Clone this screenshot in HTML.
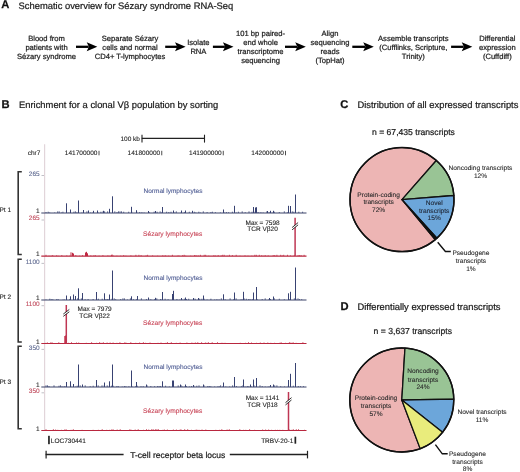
<!DOCTYPE html>
<html><head><meta charset="utf-8"><style>
html,body{margin:0;padding:0;background:#fff;width:520px;height:472px;overflow:hidden}
svg{display:block;font-family:"Liberation Sans", sans-serif;text-rendering:geometricPrecision;filter:blur(0.35px)}
</style></head><body>
<svg width="520" height="472" viewBox="0 0 520 472">
<rect width="520" height="472" fill="#fff"/>
<text x="1.3" y="8.2" font-size="11.2" text-anchor="start" fill="#111" font-weight="bold" stroke="#111" stroke-width="0.25" >A</text>
<text x="18.6" y="8.5" font-size="9.4" text-anchor="start" fill="#1c1c1c" font-weight="normal" stroke="#1c1c1c" stroke-width="0.22" >Schematic overview for Sézary syndrome RNA-Seq</text>
<text x="46.5" y="40.75" font-size="7.6" text-anchor="middle" fill="#1c1c1c" font-weight="normal" stroke="#1c1c1c" stroke-width="0.22" >Blood from</text>
<text x="46.5" y="49.75" font-size="7.6" text-anchor="middle" fill="#1c1c1c" font-weight="normal" stroke="#1c1c1c" stroke-width="0.22" >patients with</text>
<text x="46.5" y="58.75" font-size="7.6" text-anchor="middle" fill="#1c1c1c" font-weight="normal" stroke="#1c1c1c" stroke-width="0.22" >Sézary syndrome</text>
<text x="130.0" y="40.75" font-size="7.6" text-anchor="middle" fill="#1c1c1c" font-weight="normal" stroke="#1c1c1c" stroke-width="0.22" >Separate Sézary</text>
<text x="130.0" y="49.75" font-size="7.6" text-anchor="middle" fill="#1c1c1c" font-weight="normal" stroke="#1c1c1c" stroke-width="0.22" >cells and normal</text>
<text x="130.0" y="58.75" font-size="7.6" text-anchor="middle" fill="#1c1c1c" font-weight="normal" stroke="#1c1c1c" stroke-width="0.22" >CD4+ T-lymphocytes</text>
<text x="198.4" y="45.25" font-size="7.6" text-anchor="middle" fill="#1c1c1c" font-weight="normal" stroke="#1c1c1c" stroke-width="0.22" >Isolate</text>
<text x="198.4" y="54.25" font-size="7.6" text-anchor="middle" fill="#1c1c1c" font-weight="normal" stroke="#1c1c1c" stroke-width="0.22" >RNA</text>
<text x="260.6" y="36.25" font-size="7.6" text-anchor="middle" fill="#1c1c1c" font-weight="normal" stroke="#1c1c1c" stroke-width="0.22" >101 bp paired-</text>
<text x="260.6" y="45.25" font-size="7.6" text-anchor="middle" fill="#1c1c1c" font-weight="normal" stroke="#1c1c1c" stroke-width="0.22" >end whole</text>
<text x="260.6" y="54.25" font-size="7.6" text-anchor="middle" fill="#1c1c1c" font-weight="normal" stroke="#1c1c1c" stroke-width="0.22" >transcriptome</text>
<text x="260.6" y="63.25" font-size="7.6" text-anchor="middle" fill="#1c1c1c" font-weight="normal" stroke="#1c1c1c" stroke-width="0.22" >sequencing</text>
<text x="330.0" y="36.25" font-size="7.6" text-anchor="middle" fill="#1c1c1c" font-weight="normal" stroke="#1c1c1c" stroke-width="0.22" >Align</text>
<text x="330.0" y="45.25" font-size="7.6" text-anchor="middle" fill="#1c1c1c" font-weight="normal" stroke="#1c1c1c" stroke-width="0.22" >sequencing</text>
<text x="330.0" y="54.25" font-size="7.6" text-anchor="middle" fill="#1c1c1c" font-weight="normal" stroke="#1c1c1c" stroke-width="0.22" >reads</text>
<text x="330.0" y="63.25" font-size="7.6" text-anchor="middle" fill="#1c1c1c" font-weight="normal" stroke="#1c1c1c" stroke-width="0.22" >(TopHat)</text>
<text x="413.3" y="40.75" font-size="7.6" text-anchor="middle" fill="#1c1c1c" font-weight="normal" stroke="#1c1c1c" stroke-width="0.22" >Assemble transcripts</text>
<text x="413.3" y="49.75" font-size="7.6" text-anchor="middle" fill="#1c1c1c" font-weight="normal" stroke="#1c1c1c" stroke-width="0.22" >(Cufflinks, Scripture,</text>
<text x="413.3" y="58.75" font-size="7.6" text-anchor="middle" fill="#1c1c1c" font-weight="normal" stroke="#1c1c1c" stroke-width="0.22" >Trinity)</text>
<text x="497.3" y="40.75" font-size="7.6" text-anchor="middle" fill="#1c1c1c" font-weight="normal" stroke="#1c1c1c" stroke-width="0.22" >Differential</text>
<text x="497.3" y="49.75" font-size="7.6" text-anchor="middle" fill="#1c1c1c" font-weight="normal" stroke="#1c1c1c" stroke-width="0.22" >expression</text>
<text x="497.3" y="58.75" font-size="7.6" text-anchor="middle" fill="#1c1c1c" font-weight="normal" stroke="#1c1c1c" stroke-width="0.22" >(Cuffdiff)</text>
<line x1="76" y1="46.8" x2="88.7" y2="46.8" stroke="#000" stroke-width="2.3"/>
<path d="M97.3,46.8 L86.7,42.3 L88.9,46.8 L86.7,51.3 Z" fill="#000"/>
<line x1="165.2" y1="46.8" x2="177.0" y2="46.8" stroke="#000" stroke-width="2.3"/>
<path d="M185.6,46.8 L175.0,42.3 L177.2,46.8 L175.0,51.3 Z" fill="#000"/>
<line x1="212.9" y1="46.8" x2="224.9" y2="46.8" stroke="#000" stroke-width="2.3"/>
<path d="M233.5,46.8 L222.9,42.3 L225.1,46.8 L222.9,51.3 Z" fill="#000"/>
<line x1="285" y1="46.8" x2="297.2" y2="46.8" stroke="#000" stroke-width="2.3"/>
<path d="M305.8,46.8 L295.2,42.3 L297.4,46.8 L295.2,51.3 Z" fill="#000"/>
<line x1="352.3" y1="46.8" x2="365.2" y2="46.8" stroke="#000" stroke-width="2.3"/>
<path d="M373.8,46.8 L363.2,42.3 L365.4,46.8 L363.2,51.3 Z" fill="#000"/>
<line x1="451.1" y1="46.8" x2="463.7" y2="46.8" stroke="#000" stroke-width="2.3"/>
<path d="M472.3,46.8 L461.7,42.3 L463.9,46.8 L461.7,51.3 Z" fill="#000"/>
<text x="1.6" y="107.6" font-size="11.2" text-anchor="start" fill="#111" font-weight="bold" stroke="#111" stroke-width="0.25" >B</text>
<text x="19.0" y="107.7" font-size="9.4" text-anchor="start" fill="#1c1c1c" font-weight="normal" stroke="#1c1c1c" stroke-width="0.22" >Enrichment for a clonal Vβ population by sorting</text>
<text x="140" y="140.7" font-size="6.5" text-anchor="end" fill="#1c1c1c" font-weight="normal" stroke="#1c1c1c" stroke-width="0.1" >100 kb</text>
<line x1="141.75" y1="138.4" x2="204.5" y2="138.4" stroke="#222" stroke-width="1.1"/>
<line x1="142.0" y1="134.7" x2="142.0" y2="142.6" stroke="#222" stroke-width="1.1"/>
<line x1="204.5" y1="134.7" x2="204.5" y2="142.6" stroke="#222" stroke-width="1.1"/>
<text x="40.3" y="155.3" font-size="6.5" text-anchor="end" fill="#1c1c1c" font-weight="normal" stroke="#1c1c1c" stroke-width="0.1" >chr7</text>
<text x="97.4" y="155.3" font-size="6.5" text-anchor="end" fill="#1c1c1c" font-weight="normal" stroke="#1c1c1c" stroke-width="0.1" >141700000</text>
<line x1="99.0" y1="150.8" x2="99.0" y2="155.3" stroke="#111" stroke-width="0.75"/>
<text x="160.15" y="155.3" font-size="6.5" text-anchor="end" fill="#1c1c1c" font-weight="normal" stroke="#1c1c1c" stroke-width="0.1" >141800000</text>
<line x1="161.75" y1="150.8" x2="161.75" y2="155.3" stroke="#111" stroke-width="0.75"/>
<text x="221.65" y="155.3" font-size="6.5" text-anchor="end" fill="#1c1c1c" font-weight="normal" stroke="#1c1c1c" stroke-width="0.1" >141900000</text>
<line x1="223.25" y1="150.8" x2="223.25" y2="155.3" stroke="#111" stroke-width="0.75"/>
<text x="283.9" y="155.3" font-size="6.5" text-anchor="end" fill="#1c1c1c" font-weight="normal" stroke="#1c1c1c" stroke-width="0.1" >142000000</text>
<line x1="285.5" y1="150.8" x2="285.5" y2="155.3" stroke="#111" stroke-width="0.75"/>
<line x1="44.6" y1="144.2" x2="44.6" y2="431" stroke="#e2d5da" stroke-width="1.2"/>
<text x="39.7" y="175.7" font-size="6.5" text-anchor="end" fill="#5e6990" font-weight="normal" stroke="#5e6990" stroke-width="0.1" >265</text>
<text x="39.7" y="213.2" font-size="6.5" text-anchor="end" fill="#2a2a2a" font-weight="normal" stroke="#2a2a2a" stroke-width="0.1" >1</text>
<line x1="41.5" y1="175.5" x2="44.0" y2="175.5" stroke="#b0b0b8" stroke-width="0.8"/>
<line x1="41.3" y1="213.0" x2="306.5" y2="213.0" stroke="#3a4268" stroke-width="1.0"/>
<text x="39.7" y="220.2" font-size="6.5" text-anchor="end" fill="#c04a5c" font-weight="normal" stroke="#c04a5c" stroke-width="0.1" >265</text>
<text x="39.7" y="256.3" font-size="6.5" text-anchor="end" fill="#2a2a2a" font-weight="normal" stroke="#2a2a2a" stroke-width="0.1" >1</text>
<line x1="41.5" y1="220.0" x2="44.0" y2="220.0" stroke="#b0b0b8" stroke-width="0.8"/>
<line x1="41.3" y1="256.1" x2="306.5" y2="256.1" stroke="#b8283f" stroke-width="1.1"/>
<text x="39.7" y="263.6" font-size="6.5" text-anchor="end" fill="#5e6990" font-weight="normal" stroke="#5e6990" stroke-width="0.1" >1100</text>
<text x="39.7" y="300.2" font-size="6.5" text-anchor="end" fill="#2a2a2a" font-weight="normal" stroke="#2a2a2a" stroke-width="0.1" >1</text>
<line x1="41.5" y1="263.40000000000003" x2="44.0" y2="263.40000000000003" stroke="#b0b0b8" stroke-width="0.8"/>
<line x1="41.3" y1="300.0" x2="306.5" y2="300.0" stroke="#3a4268" stroke-width="1.0"/>
<text x="39.7" y="305.9" font-size="6.5" text-anchor="end" fill="#c04a5c" font-weight="normal" stroke="#c04a5c" stroke-width="0.1" >1100</text>
<text x="39.7" y="343.7" font-size="6.5" text-anchor="end" fill="#2a2a2a" font-weight="normal" stroke="#2a2a2a" stroke-width="0.1" >1</text>
<line x1="41.5" y1="305.7" x2="44.0" y2="305.7" stroke="#b0b0b8" stroke-width="0.8"/>
<line x1="41.3" y1="343.5" x2="306.5" y2="343.5" stroke="#b8283f" stroke-width="1.1"/>
<text x="39.7" y="349.6" font-size="6.5" text-anchor="end" fill="#5e6990" font-weight="normal" stroke="#5e6990" stroke-width="0.1" >350</text>
<text x="39.7" y="387.2" font-size="6.5" text-anchor="end" fill="#2a2a2a" font-weight="normal" stroke="#2a2a2a" stroke-width="0.1" >1</text>
<line x1="41.5" y1="349.40000000000003" x2="44.0" y2="349.40000000000003" stroke="#b0b0b8" stroke-width="0.8"/>
<line x1="41.3" y1="387.0" x2="306.5" y2="387.0" stroke="#3a4268" stroke-width="1.0"/>
<text x="39.7" y="393.0" font-size="6.5" text-anchor="end" fill="#c04a5c" font-weight="normal" stroke="#c04a5c" stroke-width="0.1" >350</text>
<text x="39.7" y="430.7" font-size="6.5" text-anchor="end" fill="#2a2a2a" font-weight="normal" stroke="#2a2a2a" stroke-width="0.1" >1</text>
<line x1="41.5" y1="392.8" x2="44.0" y2="392.8" stroke="#b0b0b8" stroke-width="0.8"/>
<line x1="41.3" y1="430.5" x2="306.5" y2="430.5" stroke="#b8283f" stroke-width="1.1"/>
<path d="M46.0,213.0 V212.0 M48.2,213.0 V211.7 M49.7,213.0 V212.5 M54.7,213.0 V212.5 M57.7,213.0 V211.3 M59.2,213.0 V211.3 M61.4,213.0 V212.5 M62.9,213.0 V211.7 M66.7,213.0 V212.5 M68.9,213.0 V212.5 M73.9,213.0 V211.7 M75.4,213.0 V211.3 M76.9,213.0 V212.2 M81.9,213.0 V212.5 M86.9,213.0 V211.3 M90.7,213.0 V212.5 M92.9,213.0 V212.5 M97.9,213.0 V212.2 M100.9,213.0 V211.7 M103.1,213.0 V211.3 M104.6,213.0 V211.3 M107.6,213.0 V211.3 M109.8,213.0 V212.5 M114.8,213.0 V211.3 M117.0,213.0 V212.0 M118.5,213.0 V211.3 M120.0,213.0 V211.3 M121.5,213.0 V211.3 M123.7,213.0 V211.7 M128.7,213.0 V211.7 M131.7,213.0 V211.7 M136.7,213.0 V211.7 M139.7,213.0 V212.0 M141.9,213.0 V212.2 M144.1,213.0 V212.5 M149.1,213.0 V212.0 M154.1,213.0 V211.7 M157.1,213.0 V211.7 M160.1,213.0 V211.3 M161.6,213.0 V212.5 M166.6,213.0 V211.7 M168.8,213.0 V212.0 M171.0,213.0 V211.7 M174.8,213.0 V212.5 M176.3,213.0 V211.3 M181.3,213.0 V212.0 M184.3,213.0 V212.0 M189.3,213.0 V211.7 M194.3,213.0 V211.7 M195.8,213.0 V212.5 M198.8,213.0 V211.7 M200.3,213.0 V212.5 M203.3,213.0 V211.3 M207.1,213.0 V212.0 M210.9,213.0 V212.0 M212.4,213.0 V211.7 M215.4,213.0 V212.2 M220.4,213.0 V212.5 M224.2,213.0 V212.5 M226.4,213.0 V212.0 M228.6,213.0 V212.2 M232.4,213.0 V211.7 M236.2,213.0 V212.5 M238.4,213.0 V211.7 M242.2,213.0 V211.3 M245.2,213.0 V212.2 M249.0,213.0 V211.3 M252.0,213.0 V211.7 M255.0,213.0 V211.7 M257.2,213.0 V212.2 M258.7,213.0 V212.2 M260.9,213.0 V212.2 M263.1,213.0 V212.5 M266.9,213.0 V211.3 M269.1,213.0 V212.0 M272.1,213.0 V212.5 M274.3,213.0 V211.7 M279.3,213.0 V212.0 M284.3,213.0 V211.3 M287.3,213.0 V212.2 M292.3,213.0 V211.3 M293.8,213.0 V211.7 M298.8,213.0 V211.7 M302.6,213.0 V211.7" stroke="#384272" stroke-width="0.8" fill="none"/>
<line x1="66.5" y1="203.3" x2="66.5" y2="213.0" stroke="#384272" stroke-width="1.0"/>
<line x1="70.5" y1="209.5" x2="70.5" y2="213.0" stroke="#384272" stroke-width="1.0"/>
<line x1="78.5" y1="200.5" x2="78.5" y2="213.0" stroke="#384272" stroke-width="1.0"/>
<line x1="83.5" y1="210" x2="83.5" y2="213.0" stroke="#384272" stroke-width="1.0"/>
<line x1="88.5" y1="210.5" x2="88.5" y2="213.0" stroke="#384272" stroke-width="1.0"/>
<line x1="93.5" y1="210.8" x2="93.5" y2="213.0" stroke="#384272" stroke-width="1.0"/>
<line x1="97.5" y1="210.5" x2="97.5" y2="213.0" stroke="#384272" stroke-width="1.0"/>
<line x1="103.5" y1="210.8" x2="103.5" y2="213.0" stroke="#384272" stroke-width="1.0"/>
<line x1="109.5" y1="208.8" x2="109.5" y2="213.0" stroke="#384272" stroke-width="1.0"/>
<line x1="112.5" y1="196.3" x2="112.5" y2="213.0" stroke="#384272" stroke-width="1.0"/>
<line x1="131.5" y1="206.8" x2="131.5" y2="213.0" stroke="#384272" stroke-width="1.0"/>
<line x1="136.5" y1="210.2" x2="136.5" y2="213.0" stroke="#384272" stroke-width="1.0"/>
<line x1="148.5" y1="211" x2="148.5" y2="213.0" stroke="#384272" stroke-width="1.0"/>
<line x1="155.5" y1="211" x2="155.5" y2="213.0" stroke="#384272" stroke-width="1.0"/>
<line x1="162.5" y1="207" x2="162.5" y2="213.0" stroke="#384272" stroke-width="1.0"/>
<line x1="173.5" y1="210.5" x2="173.5" y2="213.0" stroke="#384272" stroke-width="1.0"/>
<line x1="181.5" y1="210.5" x2="181.5" y2="213.0" stroke="#384272" stroke-width="1.0"/>
<line x1="185.5" y1="210.5" x2="185.5" y2="213.0" stroke="#384272" stroke-width="1.0"/>
<line x1="192.5" y1="210.8" x2="192.5" y2="213.0" stroke="#384272" stroke-width="1.0"/>
<line x1="223.5" y1="209.5" x2="223.5" y2="213.0" stroke="#384272" stroke-width="1.0"/>
<line x1="234.5" y1="205.8" x2="234.5" y2="213.0" stroke="#384272" stroke-width="1.0"/>
<line x1="253.5" y1="207" x2="253.5" y2="213.0" stroke="#384272" stroke-width="1.0"/>
<line x1="255.5" y1="207.5" x2="255.5" y2="213.0" stroke="#384272" stroke-width="1.0"/>
<line x1="256.5" y1="207.2" x2="256.5" y2="213.0" stroke="#384272" stroke-width="1.0"/>
<line x1="267.5" y1="211" x2="267.5" y2="213.0" stroke="#384272" stroke-width="1.0"/>
<line x1="270.5" y1="210.8" x2="270.5" y2="213.0" stroke="#384272" stroke-width="1.0"/>
<line x1="273.5" y1="210.8" x2="273.5" y2="213.0" stroke="#384272" stroke-width="1.0"/>
<line x1="288.5" y1="205.8" x2="288.5" y2="213.0" stroke="#384272" stroke-width="1.0"/>
<line x1="290.5" y1="206" x2="290.5" y2="213.0" stroke="#384272" stroke-width="1.0"/>
<line x1="295.5" y1="194.5" x2="295.5" y2="213.0" stroke="#384272" stroke-width="1.0"/>
<path d="M46.0,300.0 V299.5 M49.8,300.0 V298.7 M51.3,300.0 V299.2 M52.8,300.0 V299.2 M56.6,300.0 V299.2 M58.1,300.0 V299.0 M63.1,300.0 V299.5 M64.6,300.0 V299.5 M69.6,300.0 V299.2 M74.6,300.0 V299.5 M77.6,300.0 V298.3 M79.1,300.0 V299.5 M81.3,300.0 V298.3 M85.1,300.0 V299.2 M88.1,300.0 V299.0 M93.1,300.0 V299.0 M96.9,300.0 V299.5 M98.4,300.0 V298.7 M102.2,300.0 V298.7 M106.0,300.0 V299.0 M107.5,300.0 V299.2 M109.0,300.0 V299.0 M112.0,300.0 V298.7 M114.2,300.0 V298.3 M115.7,300.0 V299.2 M120.7,300.0 V299.0 M122.9,300.0 V298.3 M124.4,300.0 V298.3 M127.4,300.0 V299.5 M130.4,300.0 V298.3 M133.4,300.0 V299.2 M136.4,300.0 V299.2 M141.4,300.0 V298.3 M146.4,300.0 V299.0 M148.6,300.0 V298.3 M150.8,300.0 V299.2 M154.6,300.0 V299.2 M156.8,300.0 V298.3 M160.6,300.0 V299.0 M162.1,300.0 V299.5 M165.1,300.0 V298.7 M168.1,300.0 V299.2 M173.1,300.0 V299.0 M176.9,300.0 V299.0 M179.9,300.0 V299.5 M182.1,300.0 V299.5 M184.3,300.0 V298.7 M186.5,300.0 V299.0 M188.7,300.0 V298.7 M193.7,300.0 V298.3 M195.2,300.0 V298.7 M198.2,300.0 V299.5 M199.7,300.0 V298.7 M201.9,300.0 V298.7 M204.1,300.0 V298.7 M207.1,300.0 V299.5 M210.9,300.0 V298.7 M214.7,300.0 V299.5 M216.9,300.0 V299.2 M219.1,300.0 V299.5 M221.3,300.0 V298.3 M225.1,300.0 V299.2 M230.1,300.0 V298.3 M233.9,300.0 V299.0 M236.1,300.0 V298.3 M241.1,300.0 V299.2 M242.6,300.0 V299.5 M244.1,300.0 V298.3 M246.3,300.0 V298.7 M248.5,300.0 V299.2 M250.0,300.0 V299.0 M252.2,300.0 V299.0 M257.2,300.0 V299.2 M262.2,300.0 V299.0 M265.2,300.0 V298.3 M269.0,300.0 V299.2 M270.5,300.0 V299.0 M274.3,300.0 V298.3 M279.3,300.0 V298.7 M284.3,300.0 V299.2 M289.3,300.0 V299.2 M294.3,300.0 V298.3 M295.8,300.0 V298.7 M298.0,300.0 V298.3 M299.5,300.0 V299.2 M301.7,300.0 V299.2" stroke="#384272" stroke-width="0.8" fill="none"/>
<line x1="66.5" y1="295.5" x2="66.5" y2="300.0" stroke="#384272" stroke-width="1.0"/>
<line x1="70.5" y1="296.3" x2="70.5" y2="300.0" stroke="#384272" stroke-width="1.0"/>
<line x1="73.5" y1="294.5" x2="73.5" y2="300.0" stroke="#384272" stroke-width="1.0"/>
<line x1="75.5" y1="296" x2="75.5" y2="300.0" stroke="#384272" stroke-width="1.0"/>
<line x1="78.5" y1="288.3" x2="78.5" y2="300.0" stroke="#384272" stroke-width="1.0"/>
<line x1="82.5" y1="293" x2="82.5" y2="300.0" stroke="#384272" stroke-width="1.0"/>
<line x1="96.5" y1="292" x2="96.5" y2="300.0" stroke="#384272" stroke-width="1.0"/>
<line x1="104.5" y1="293.3" x2="104.5" y2="300.0" stroke="#384272" stroke-width="1.0"/>
<line x1="109.5" y1="294.5" x2="109.5" y2="300.0" stroke="#384272" stroke-width="1.0"/>
<line x1="112.5" y1="270.5" x2="112.5" y2="300.0" stroke="#384272" stroke-width="1.0"/>
<line x1="131.5" y1="296.3" x2="131.5" y2="300.0" stroke="#384272" stroke-width="1.0"/>
<line x1="137.5" y1="296" x2="137.5" y2="300.0" stroke="#384272" stroke-width="1.0"/>
<line x1="148.5" y1="297.5" x2="148.5" y2="300.0" stroke="#384272" stroke-width="1.0"/>
<line x1="155.5" y1="297.8" x2="155.5" y2="300.0" stroke="#384272" stroke-width="1.0"/>
<line x1="162.5" y1="292" x2="162.5" y2="300.0" stroke="#384272" stroke-width="1.0"/>
<line x1="172.5" y1="294" x2="172.5" y2="300.0" stroke="#384272" stroke-width="1.0"/>
<line x1="173.5" y1="290.8" x2="173.5" y2="300.0" stroke="#384272" stroke-width="1.0"/>
<line x1="181.5" y1="298" x2="181.5" y2="300.0" stroke="#384272" stroke-width="1.0"/>
<line x1="185.5" y1="297.5" x2="185.5" y2="300.0" stroke="#384272" stroke-width="1.0"/>
<line x1="193.5" y1="298" x2="193.5" y2="300.0" stroke="#384272" stroke-width="1.0"/>
<line x1="198.5" y1="298" x2="198.5" y2="300.0" stroke="#384272" stroke-width="1.0"/>
<line x1="203.5" y1="295.5" x2="203.5" y2="300.0" stroke="#384272" stroke-width="1.0"/>
<line x1="223.5" y1="294.3" x2="223.5" y2="300.0" stroke="#384272" stroke-width="1.0"/>
<line x1="234.5" y1="292.5" x2="234.5" y2="300.0" stroke="#384272" stroke-width="1.0"/>
<line x1="243.5" y1="291.8" x2="243.5" y2="300.0" stroke="#384272" stroke-width="1.0"/>
<line x1="253.5" y1="292.5" x2="253.5" y2="300.0" stroke="#384272" stroke-width="1.0"/>
<line x1="256.5" y1="287" x2="256.5" y2="300.0" stroke="#384272" stroke-width="1.0"/>
<line x1="269.5" y1="298" x2="269.5" y2="300.0" stroke="#384272" stroke-width="1.0"/>
<line x1="273.5" y1="296.5" x2="273.5" y2="300.0" stroke="#384272" stroke-width="1.0"/>
<line x1="288.5" y1="293.3" x2="288.5" y2="300.0" stroke="#384272" stroke-width="1.0"/>
<line x1="290.5" y1="291.8" x2="290.5" y2="300.0" stroke="#384272" stroke-width="1.0"/>
<line x1="295.5" y1="267.5" x2="295.5" y2="300.0" stroke="#384272" stroke-width="1.0"/>
<path d="M46.0,387.0 V385.3 M47.5,387.0 V385.3 M49.0,387.0 V386.0 M54.0,387.0 V385.3 M59.0,387.0 V385.7 M60.5,387.0 V385.3 M62.0,387.0 V386.2 M64.2,387.0 V386.0 M65.7,387.0 V386.5 M70.7,387.0 V385.7 M75.7,387.0 V386.5 M77.2,387.0 V385.7 M80.2,387.0 V385.3 M85.2,387.0 V385.3 M90.2,387.0 V386.2 M93.2,387.0 V385.7 M98.2,387.0 V385.3 M102.0,387.0 V385.3 M104.2,387.0 V385.3 M107.2,387.0 V385.3 M109.4,387.0 V385.7 M111.6,387.0 V385.7 M113.1,387.0 V385.7 M116.9,387.0 V386.0 M118.4,387.0 V386.2 M122.2,387.0 V386.5 M124.4,387.0 V386.0 M125.9,387.0 V386.2 M128.9,387.0 V386.2 M131.9,387.0 V386.2 M135.7,387.0 V386.2 M137.2,387.0 V385.7 M141.0,387.0 V386.2 M143.2,387.0 V386.2 M147.0,387.0 V385.3 M150.8,387.0 V386.0 M154.6,387.0 V386.2 M157.6,387.0 V386.0 M159.1,387.0 V386.0 M160.6,387.0 V386.0 M165.6,387.0 V385.7 M169.4,387.0 V386.5 M173.2,387.0 V386.0 M178.2,387.0 V385.3 M181.2,387.0 V385.3 M182.7,387.0 V386.5 M184.9,387.0 V386.5 M186.4,387.0 V386.0 M189.4,387.0 V386.5 M191.6,387.0 V386.0 M193.8,387.0 V385.7 M196.8,387.0 V385.7 M199.0,387.0 V385.3 M204.0,387.0 V385.3 M207.8,387.0 V386.0 M209.3,387.0 V386.0 M210.8,387.0 V386.2 M214.6,387.0 V386.5 M217.6,387.0 V386.5 M219.1,387.0 V386.0 M220.6,387.0 V385.3 M222.8,387.0 V386.5 M225.8,387.0 V386.5 M229.6,387.0 V386.5 M232.6,387.0 V385.3 M236.4,387.0 V386.0 M241.4,387.0 V386.2 M242.9,387.0 V385.3 M245.1,387.0 V386.5 M247.3,387.0 V386.0 M248.8,387.0 V386.2 M251.0,387.0 V386.0 M254.0,387.0 V385.3 M256.2,387.0 V386.0 M260.0,387.0 V385.3 M262.2,387.0 V386.0 M265.2,387.0 V386.5 M268.2,387.0 V386.5 M269.7,387.0 V386.5 M274.7,387.0 V385.3 M276.9,387.0 V385.3 M280.7,387.0 V386.2 M284.5,387.0 V386.5 M288.3,387.0 V385.7 M293.3,387.0 V385.7 M298.3,387.0 V386.0 M300.5,387.0 V386.2 M303.5,387.0 V386.2" stroke="#384272" stroke-width="0.8" fill="none"/>
<line x1="66.5" y1="382" x2="66.5" y2="387.0" stroke="#384272" stroke-width="1.0"/>
<line x1="70.5" y1="381.3" x2="70.5" y2="387.0" stroke="#384272" stroke-width="1.0"/>
<line x1="73.5" y1="384" x2="73.5" y2="387.0" stroke="#384272" stroke-width="1.0"/>
<line x1="78.5" y1="364.5" x2="78.5" y2="387.0" stroke="#384272" stroke-width="1.0"/>
<line x1="82.5" y1="384.5" x2="82.5" y2="387.0" stroke="#384272" stroke-width="1.0"/>
<line x1="96.5" y1="380" x2="96.5" y2="387.0" stroke="#384272" stroke-width="1.0"/>
<line x1="104.5" y1="382.5" x2="104.5" y2="387.0" stroke="#384272" stroke-width="1.0"/>
<line x1="109.5" y1="381.3" x2="109.5" y2="387.0" stroke="#384272" stroke-width="1.0"/>
<line x1="112.5" y1="364.5" x2="112.5" y2="387.0" stroke="#384272" stroke-width="1.0"/>
<line x1="131.5" y1="370.5" x2="131.5" y2="387.0" stroke="#384272" stroke-width="1.0"/>
<line x1="136.5" y1="382" x2="136.5" y2="387.0" stroke="#384272" stroke-width="1.0"/>
<line x1="146.5" y1="384.5" x2="146.5" y2="387.0" stroke="#384272" stroke-width="1.0"/>
<line x1="162.5" y1="381.3" x2="162.5" y2="387.0" stroke="#384272" stroke-width="1.0"/>
<line x1="172.5" y1="380.5" x2="172.5" y2="387.0" stroke="#384272" stroke-width="1.0"/>
<line x1="173.5" y1="380.5" x2="173.5" y2="387.0" stroke="#384272" stroke-width="1.0"/>
<line x1="180.5" y1="384.5" x2="180.5" y2="387.0" stroke="#384272" stroke-width="1.0"/>
<line x1="185.5" y1="384.5" x2="185.5" y2="387.0" stroke="#384272" stroke-width="1.0"/>
<line x1="193.5" y1="385" x2="193.5" y2="387.0" stroke="#384272" stroke-width="1.0"/>
<line x1="203.5" y1="384.5" x2="203.5" y2="387.0" stroke="#384272" stroke-width="1.0"/>
<line x1="223.5" y1="382.5" x2="223.5" y2="387.0" stroke="#384272" stroke-width="1.0"/>
<line x1="234.5" y1="377" x2="234.5" y2="387.0" stroke="#384272" stroke-width="1.0"/>
<line x1="243.5" y1="379.5" x2="243.5" y2="387.0" stroke="#384272" stroke-width="1.0"/>
<line x1="250.5" y1="384.5" x2="250.5" y2="387.0" stroke="#384272" stroke-width="1.0"/>
<line x1="253.5" y1="379.5" x2="253.5" y2="387.0" stroke="#384272" stroke-width="1.0"/>
<line x1="256.5" y1="378" x2="256.5" y2="387.0" stroke="#384272" stroke-width="1.0"/>
<line x1="270.5" y1="385" x2="270.5" y2="387.0" stroke="#384272" stroke-width="1.0"/>
<line x1="273.5" y1="384.5" x2="273.5" y2="387.0" stroke="#384272" stroke-width="1.0"/>
<line x1="288.5" y1="380" x2="288.5" y2="387.0" stroke="#384272" stroke-width="1.0"/>
<line x1="290.5" y1="373.8" x2="290.5" y2="387.0" stroke="#384272" stroke-width="1.0"/>
<line x1="295.5" y1="363" x2="295.5" y2="387.0" stroke="#384272" stroke-width="1.0"/>
<path d="M46.0,256.1 V254.8 M49.0,256.1 V255.7 M51.2,256.1 V255.7 M52.7,256.1 V255.1 M56.5,256.1 V255.4 M58.0,256.1 V255.7 M61.8,256.1 V255.1 M66.8,256.1 V255.4 M69.8,256.1 V255.7 M73.6,256.1 V255.4 M75.8,256.1 V255.1 M79.6,256.1 V255.7 M82.6,256.1 V255.1 M85.6,256.1 V255.1 M87.8,256.1 V255.7 M90.8,256.1 V255.4 M93.8,256.1 V255.4 M95.3,256.1 V255.1 M99.1,256.1 V255.7 M102.9,256.1 V255.1 M107.9,256.1 V255.4 M110.1,256.1 V255.7 M111.6,256.1 V255.1 M113.1,256.1 V255.4 M116.9,256.1 V255.7 M120.7,256.1 V255.7 M123.7,256.1 V255.1 M125.9,256.1 V255.7 M130.9,256.1 V255.4 M135.9,256.1 V254.8 M138.9,256.1 V254.8 M141.1,256.1 V255.1 M146.1,256.1 V255.4 M147.6,256.1 V254.8 M152.6,256.1 V255.4 M157.6,256.1 V255.7 M162.6,256.1 V255.4 M164.1,256.1 V255.7 M165.6,256.1 V255.4 M168.6,256.1 V255.7 M172.4,256.1 V254.8 M177.4,256.1 V255.7 M178.9,256.1 V255.4 M182.7,256.1 V255.1 M184.2,256.1 V254.8 M185.7,256.1 V255.7 M190.7,256.1 V255.7 M194.5,256.1 V255.1 M196.0,256.1 V255.1 M198.2,256.1 V255.4 M200.4,256.1 V254.8 M204.2,256.1 V254.8 M205.7,256.1 V254.8 M208.7,256.1 V255.7 M213.7,256.1 V255.4 M215.2,256.1 V255.4 M218.2,256.1 V255.1 M221.2,256.1 V255.4 M222.7,256.1 V254.8 M224.2,256.1 V254.8 M227.2,256.1 V255.7 M229.4,256.1 V254.8 M232.4,256.1 V255.1 M236.2,256.1 V254.8 M240.0,256.1 V255.7 M245.0,256.1 V255.4 M248.0,256.1 V255.7 M251.8,256.1 V255.7 M254.8,256.1 V254.8 M256.3,256.1 V254.8 M259.3,256.1 V254.8 M261.5,256.1 V255.4 M263.0,256.1 V255.7 M265.2,256.1 V255.1 M268.2,256.1 V255.4 M273.2,256.1 V255.1 M274.7,256.1 V255.1 M276.9,256.1 V254.8 M280.7,256.1 V254.8 M282.2,256.1 V255.4 M283.7,256.1 V254.8 M287.5,256.1 V254.8 M290.5,256.1 V255.4 M294.3,256.1 V255.1 M298.1,256.1 V255.1 M299.6,256.1 V255.1 M301.1,256.1 V255.1 M304.1,256.1 V254.8" stroke="#c02842" stroke-width="0.8" fill="none"/>
<path d="M46.0,343.5 V342.8 M47.5,343.5 V342.5 M50.5,343.5 V342.5 M52.0,343.5 V342.2 M55.8,343.5 V343.1 M58.8,343.5 V342.2 M61.8,343.5 V343.1 M64.8,343.5 V343.1 M66.3,343.5 V342.5 M68.5,343.5 V342.8 M71.5,343.5 V342.2 M76.5,343.5 V342.5 M78.7,343.5 V342.5 M82.5,343.5 V343.1 M86.3,343.5 V342.8 M87.8,343.5 V343.1 M91.6,343.5 V342.2 M96.6,343.5 V342.8 M99.6,343.5 V342.2 M101.1,343.5 V342.8 M103.3,343.5 V342.2 M107.1,343.5 V342.5 M110.1,343.5 V342.5 M113.1,343.5 V342.5 M116.9,343.5 V342.8 M119.9,343.5 V342.2 M124.9,343.5 V342.2 M126.4,343.5 V342.8 M128.6,343.5 V343.1 M130.8,343.5 V342.2 M135.8,343.5 V342.8 M139.6,343.5 V342.5 M143.4,343.5 V342.2 M145.6,343.5 V342.8 M147.8,343.5 V343.1 M150.0,343.5 V342.5 M155.0,343.5 V343.1 M158.0,343.5 V342.8 M161.0,343.5 V342.5 M166.0,343.5 V342.8 M167.5,343.5 V342.2 M171.3,343.5 V342.2 M176.3,343.5 V342.8 M180.1,343.5 V342.5 M183.1,343.5 V343.1 M186.9,343.5 V342.5 M191.9,343.5 V342.5 M194.1,343.5 V342.8 M195.6,343.5 V342.5 M197.8,343.5 V342.2 M201.6,343.5 V342.2 M205.4,343.5 V342.5 M206.9,343.5 V342.8 M208.4,343.5 V342.2 M212.2,343.5 V342.2 M213.7,343.5 V343.1 M217.5,343.5 V342.2 M221.3,343.5 V342.8 M222.8,343.5 V342.8 M225.0,343.5 V342.8 M230.0,343.5 V343.1 M233.8,343.5 V343.1 M238.8,343.5 V343.1 M240.3,343.5 V342.8 M242.5,343.5 V343.1 M245.5,343.5 V342.8 M248.5,343.5 V342.2 M250.0,343.5 V343.1 M251.5,343.5 V342.5 M256.5,343.5 V342.8 M260.3,343.5 V342.5 M262.5,343.5 V343.1 M264.0,343.5 V342.5 M267.8,343.5 V342.5 M270.8,343.5 V342.8 M274.6,343.5 V342.8 M279.6,343.5 V342.8 M281.1,343.5 V342.2 M284.1,343.5 V343.1 M285.6,343.5 V342.8 M289.4,343.5 V342.2 M290.9,343.5 V342.5 M293.1,343.5 V342.2 M296.1,343.5 V342.8 M299.9,343.5 V343.1 M302.9,343.5 V342.2" stroke="#c02842" stroke-width="0.8" fill="none"/>
<path d="M46.0,430.5 V429.2 M48.2,430.5 V430.1 M51.2,430.5 V430.1 M53.4,430.5 V429.2 M55.6,430.5 V429.5 M57.8,430.5 V429.8 M61.6,430.5 V429.8 M64.6,430.5 V429.5 M66.1,430.5 V429.2 M71.1,430.5 V429.8 M73.3,430.5 V429.2 M77.1,430.5 V430.1 M82.1,430.5 V429.8 M85.9,430.5 V430.1 M88.1,430.5 V430.1 M93.1,430.5 V429.8 M96.9,430.5 V430.1 M98.4,430.5 V429.8 M102.2,430.5 V429.2 M105.2,430.5 V430.1 M106.7,430.5 V429.8 M109.7,430.5 V429.8 M111.9,430.5 V429.2 M113.4,430.5 V429.5 M117.2,430.5 V429.5 M120.2,430.5 V429.2 M122.4,430.5 V430.1 M123.9,430.5 V430.1 M126.9,430.5 V430.1 M129.9,430.5 V429.2 M131.4,430.5 V429.8 M135.2,430.5 V429.5 M138.2,430.5 V429.2 M139.7,430.5 V430.1 M143.5,430.5 V429.8 M146.5,430.5 V429.2 M148.7,430.5 V429.5 M151.7,430.5 V429.2 M153.2,430.5 V429.2 M155.4,430.5 V429.2 M156.9,430.5 V429.2 M158.4,430.5 V429.2 M159.9,430.5 V430.1 M162.9,430.5 V429.8 M164.4,430.5 V429.5 M167.4,430.5 V429.5 M170.4,430.5 V430.1 M173.4,430.5 V429.5 M176.4,430.5 V429.5 M177.9,430.5 V430.1 M179.4,430.5 V429.8 M180.9,430.5 V429.2 M184.7,430.5 V429.2 M187.7,430.5 V429.2 M191.5,430.5 V429.8 M195.3,430.5 V429.8 M196.8,430.5 V429.5 M199.0,430.5 V429.8 M202.0,430.5 V429.5 M205.8,430.5 V429.5 M210.8,430.5 V430.1 M215.8,430.5 V429.8 M219.6,430.5 V429.8 M221.8,430.5 V429.2 M223.3,430.5 V430.1 M227.1,430.5 V429.5 M229.3,430.5 V429.2 M230.8,430.5 V430.1 M233.8,430.5 V430.1 M236.0,430.5 V430.1 M239.8,430.5 V429.2 M243.6,430.5 V429.8 M245.8,430.5 V429.8 M249.6,430.5 V429.2 M254.6,430.5 V429.8 M259.6,430.5 V430.1 M262.6,430.5 V429.5 M265.6,430.5 V429.5 M268.6,430.5 V429.5 M271.6,430.5 V429.8 M275.4,430.5 V429.8 M277.6,430.5 V429.8 M279.8,430.5 V429.8 M282.8,430.5 V429.8 M285.8,430.5 V430.1 M289.6,430.5 V429.5 M291.8,430.5 V429.8 M293.3,430.5 V429.2 M294.8,430.5 V430.1 M296.3,430.5 V429.2 M298.5,430.5 V429.2 M301.5,430.5 V430.1 M304.5,430.5 V429.8" stroke="#c02842" stroke-width="0.8" fill="none"/>
<line x1="71" y1="252.3" x2="71" y2="256.1" stroke="#c02842" stroke-width="1.0"/>
<line x1="72.5" y1="252.8" x2="72.5" y2="256.1" stroke="#c02842" stroke-width="1.0"/>
<line x1="73.5" y1="253.5" x2="73.5" y2="256.1" stroke="#c02842" stroke-width="1.0"/>
<line x1="85.5" y1="252.5" x2="85.5" y2="256.1" stroke="#c02842" stroke-width="1.0"/>
<line x1="86.5" y1="251.8" x2="86.5" y2="256.1" stroke="#c02842" stroke-width="1.0"/>
<line x1="87.5" y1="253.3" x2="87.5" y2="256.1" stroke="#c02842" stroke-width="1.0"/>
<line x1="112" y1="254.5" x2="112" y2="256.1" stroke="#c02842" stroke-width="1.0"/>
<line x1="64.8" y1="336" x2="64.8" y2="343.5" stroke="#c02842" stroke-width="1.0"/>
<line x1="65.6" y1="335.5" x2="65.6" y2="343.5" stroke="#c02842" stroke-width="1.0"/>
<line x1="295.1" y1="217.8" x2="295.1" y2="256.1" stroke="#bf3653" stroke-width="1.5"/>
<path d="M292.1,227.54999999999998 L298.1,222.54999999999998 L298.1,224.85 L292.1,229.85 Z" fill="#fff"/>
<line x1="292.1" y1="227.54999999999998" x2="298.1" y2="222.54999999999998" stroke="#1a1a1a" stroke-width="0.9"/>
<line x1="292.1" y1="229.85" x2="298.1" y2="224.85" stroke="#1a1a1a" stroke-width="0.9"/>
<line x1="66.3" y1="305.0" x2="66.3" y2="343.5" stroke="#bf3653" stroke-width="1.5"/>
<path d="M63.3,314.05 L69.3,309.45 L69.3,311.74999999999994 L63.3,316.34999999999997 Z" fill="#fff"/>
<line x1="63.3" y1="314.05" x2="69.3" y2="309.45" stroke="#1a1a1a" stroke-width="0.9"/>
<line x1="63.3" y1="316.34999999999997" x2="69.3" y2="311.74999999999994" stroke="#1a1a1a" stroke-width="0.9"/>
<line x1="288.5" y1="392.0" x2="288.5" y2="430.5" stroke="#bf3653" stroke-width="1.5"/>
<path d="M285.5,402.65000000000003 L291.5,397.65000000000003 L291.5,399.95 L285.5,404.95 Z" fill="#fff"/>
<line x1="285.5" y1="402.65000000000003" x2="291.5" y2="397.65000000000003" stroke="#1a1a1a" stroke-width="0.9"/>
<line x1="285.5" y1="404.95" x2="291.5" y2="399.95" stroke="#1a1a1a" stroke-width="0.9"/>
<text x="262.6" y="224.8" font-size="6.5" text-anchor="middle" fill="#1c1c1c" font-weight="normal" stroke="#1c1c1c" stroke-width="0.1" >Max = 7598</text>
<text x="262.6" y="230.8" font-size="6.5" text-anchor="middle" fill="#1c1c1c" font-weight="normal" stroke="#1c1c1c" stroke-width="0.1" >TCR Vβ20</text>
<text x="94.6" y="310.8" font-size="6.5" text-anchor="middle" fill="#1c1c1c" font-weight="normal" stroke="#1c1c1c" stroke-width="0.1" >Max = 7979</text>
<text x="94.6" y="317.8" font-size="6.5" text-anchor="middle" fill="#1c1c1c" font-weight="normal" stroke="#1c1c1c" stroke-width="0.1" >TCR Vβ22</text>
<text x="262.5" y="400.0" font-size="6.5" text-anchor="middle" fill="#1c1c1c" font-weight="normal" stroke="#1c1c1c" stroke-width="0.1" >Max = 1141</text>
<text x="262.5" y="407.2" font-size="6.5" text-anchor="middle" fill="#1c1c1c" font-weight="normal" stroke="#1c1c1c" stroke-width="0.1" >TCR Vβ18</text>
<text x="143.5" y="192.5" font-size="6.5" text-anchor="start" fill="#4c5a92" font-weight="normal" stroke="#4c5a92" stroke-width="0.1" >Normal lymphocytes</text>
<text x="143.1" y="235.6" font-size="6.62" text-anchor="start" fill="#c84456" font-weight="normal" stroke="#c84456" stroke-width="0.1" >Sézary lymphocytes</text>
<text x="143.5" y="279.6" font-size="6.5" text-anchor="start" fill="#4c5a92" font-weight="normal" stroke="#4c5a92" stroke-width="0.1" >Normal lymphocytes</text>
<text x="143.1" y="325.0" font-size="6.62" text-anchor="start" fill="#c84456" font-weight="normal" stroke="#c84456" stroke-width="0.1" >Sézary lymphocytes</text>
<text x="143.5" y="369.0" font-size="6.5" text-anchor="start" fill="#4c5a92" font-weight="normal" stroke="#4c5a92" stroke-width="0.1" >Normal lymphocytes</text>
<text x="143.1" y="412.8" font-size="6.62" text-anchor="start" fill="#c84456" font-weight="normal" stroke="#c84456" stroke-width="0.1" >Sézary lymphocytes</text>
<path d="M21.8,171.8 H18.2 V254.5 H21.8" fill="none" stroke="#333" stroke-width="1.6"/>
<text x="11.0" y="212.0" font-size="6.5" text-anchor="end" fill="#1c1c1c" font-weight="normal" stroke="#1c1c1c" stroke-width="0.1" >Pt 1</text>
<path d="M21.8,259.2 H18.2 V342.0 H21.8" fill="none" stroke="#333" stroke-width="1.6"/>
<text x="11.0" y="298.6" font-size="6.5" text-anchor="end" fill="#1c1c1c" font-weight="normal" stroke="#1c1c1c" stroke-width="0.1" >Pt 2</text>
<path d="M21.8,346.3 H18.2 V428.7 H21.8" fill="none" stroke="#333" stroke-width="1.6"/>
<text x="11.0" y="384.1" font-size="6.5" text-anchor="end" fill="#1c1c1c" font-weight="normal" stroke="#1c1c1c" stroke-width="0.1" >Pt 3</text>
<rect x="48.1" y="435.8" width="1.7" height="8.4" fill="#222"/>
<text x="50.8" y="443.0" font-size="6.5" text-anchor="start" fill="#1c1c1c" font-weight="normal" stroke="#1c1c1c" stroke-width="0.1" >LOC730441</text>
<rect x="294.5" y="436.7" width="1.7" height="7.0" fill="#222"/>
<text x="293.3" y="443.0" font-size="6.5" text-anchor="end" fill="#1c1c1c" font-weight="normal" stroke="#1c1c1c" stroke-width="0.1" >TRBV-20-1</text>
<line x1="45.6" y1="454.5" x2="123.6" y2="454.5" stroke="#222" stroke-width="1.4"/>
<line x1="46.1" y1="450.8" x2="46.1" y2="458.4" stroke="#222" stroke-width="1.2"/>
<line x1="229.8" y1="454.5" x2="308.0" y2="454.5" stroke="#222" stroke-width="1.4"/>
<line x1="307.5" y1="450.8" x2="307.5" y2="458.4" stroke="#222" stroke-width="1.2"/>
<text x="130.3" y="457.6" font-size="8.5" text-anchor="start" fill="#1c1c1c" font-weight="normal" stroke="#1c1c1c" stroke-width="0.22" >T-cell receptor beta locus</text>
<text x="340.3" y="108.0" font-size="11.2" text-anchor="start" fill="#111" font-weight="bold" stroke="#111" stroke-width="0.25" >C</text>
<text x="357.4" y="108.0" font-size="9.4" text-anchor="start" fill="#1c1c1c" font-weight="normal" stroke="#1c1c1c" stroke-width="0.22" >Distribution of all expressed transcripts</text>
<text x="372.0" y="134.5" font-size="8.6" text-anchor="start" fill="#1c1c1c" font-weight="normal" stroke="#1c1c1c" stroke-width="0.22" >n = 67,435 transcripts</text>
<path d="M402.0,199.6 L436.32,160.53 A52.0,52.0 0 1 0 435.15,239.67 Z" fill="#edb5b4" stroke="#111" stroke-width="1.3" stroke-linejoin="round"/>
<path d="M402.0,199.6 L453.84,195.52 A52.0,52.0 0 0 0 436.32,160.53 Z" fill="#99c495" stroke="#111" stroke-width="1.3" stroke-linejoin="round"/>
<path d="M402.0,199.6 L436.93,238.12 A52.0,52.0 0 0 0 453.84,195.52 Z" fill="#6ca6da" stroke="#111" stroke-width="1.3" stroke-linejoin="round"/>
<path d="M402.0,199.6 L435.15,239.67 A52.0,52.0 0 0 0 436.93,238.12 Z" fill="#111" stroke="#111" stroke-width="1.3" stroke-linejoin="round"/>
<circle cx="402.0" cy="199.6" r="52.0" fill="none" stroke="#111" stroke-width="1.5"/>
<text x="378.6" y="196.8" font-size="6.6" text-anchor="middle" fill="#2a2a2a" font-weight="normal" stroke="#2a2a2a" stroke-width="0.1" >Protein-coding</text>
<text x="378.6" y="204.4" font-size="6.6" text-anchor="middle" fill="#2a2a2a" font-weight="normal" stroke="#2a2a2a" stroke-width="0.1" >transcripts</text>
<text x="378.6" y="212.0" font-size="6.6" text-anchor="middle" fill="#2a2a2a" font-weight="normal" stroke="#2a2a2a" stroke-width="0.1" >72%</text>
<text x="434.2" y="204.7" font-size="6.6" text-anchor="middle" fill="#1e2533" font-weight="normal" stroke="#1e2533" stroke-width="0.1" >Novel</text>
<text x="434.2" y="212.7" font-size="6.6" text-anchor="middle" fill="#1e2533" font-weight="normal" stroke="#1e2533" stroke-width="0.1" >transcripts</text>
<text x="434.2" y="220.39999999999998" font-size="6.6" text-anchor="middle" fill="#1e2533" font-weight="normal" stroke="#1e2533" stroke-width="0.1" >15%</text>
<text x="480.5" y="170.0" font-size="6.6" text-anchor="middle" fill="#2a2a2a" font-weight="normal" stroke="#2a2a2a" stroke-width="0.1" >Noncoding transcripts</text>
<text x="480.5" y="178.0" font-size="6.6" text-anchor="middle" fill="#2a2a2a" font-weight="normal" stroke="#2a2a2a" stroke-width="0.1" >12%</text>
<text x="470.9" y="254.8" font-size="6.6" text-anchor="middle" fill="#2a2a2a" font-weight="normal" stroke="#2a2a2a" stroke-width="0.1" >Pseudogene</text>
<text x="470.9" y="263.0" font-size="6.6" text-anchor="middle" fill="#2a2a2a" font-weight="normal" stroke="#2a2a2a" stroke-width="0.1" >transcripts</text>
<text x="470.9" y="270.7" font-size="6.6" text-anchor="middle" fill="#2a2a2a" font-weight="normal" stroke="#2a2a2a" stroke-width="0.1" >1%</text>
<path d="M437.7,242.3 L445.4,251.5 H450.8" fill="none" stroke="#111" stroke-width="1.4"/>
<text x="340.6" y="310.2" font-size="11.2" text-anchor="start" fill="#111" font-weight="bold" stroke="#111" stroke-width="0.25" >D</text>
<text x="357.4" y="310.2" font-size="9.4" text-anchor="start" fill="#1c1c1c" font-weight="normal" stroke="#1c1c1c" stroke-width="0.22" >Differentially expressed transcripts</text>
<text x="373.6" y="334.2" font-size="8.65" text-anchor="start" fill="#1c1c1c" font-weight="normal" stroke="#1c1c1c" stroke-width="0.22" >n = 3,637 transcripts</text>
<path d="M401.8,400.0 L404.97,348.10 A52.0,52.0 0 1 0 420.18,448.64 Z" fill="#edb5b4" stroke="#111" stroke-width="1.3" stroke-linejoin="round"/>
<path d="M401.8,400.0 L453.79,399.09 A52.0,52.0 0 0 0 404.97,348.10 Z" fill="#99c495" stroke="#111" stroke-width="1.3" stroke-linejoin="round"/>
<path d="M401.8,400.0 L442.55,432.30 A52.0,52.0 0 0 0 453.79,399.09 Z" fill="#6ca6da" stroke="#111" stroke-width="1.3" stroke-linejoin="round"/>
<path d="M401.8,400.0 L420.18,448.64 A52.0,52.0 0 0 0 442.55,432.30 Z" fill="#e9ec7c" stroke="#111" stroke-width="1.3" stroke-linejoin="round"/>
<circle cx="401.8" cy="400.0" r="52.0" fill="none" stroke="#111" stroke-width="1.5"/>
<text x="423.0" y="373.2" font-size="6.6" text-anchor="middle" fill="#2a2a2a" font-weight="normal" stroke="#2a2a2a" stroke-width="0.1" >Noncoding</text>
<text x="423.0" y="381.6" font-size="6.6" text-anchor="middle" fill="#2a2a2a" font-weight="normal" stroke="#2a2a2a" stroke-width="0.1" >transcripts</text>
<text x="423.0" y="388.7" font-size="6.6" text-anchor="middle" fill="#2a2a2a" font-weight="normal" stroke="#2a2a2a" stroke-width="0.1" >24%</text>
<text x="376.0" y="400.2" font-size="6.6" text-anchor="middle" fill="#2a2a2a" font-weight="normal" stroke="#2a2a2a" stroke-width="0.1" >Protein-coding</text>
<text x="376.0" y="408.2" font-size="6.6" text-anchor="middle" fill="#2a2a2a" font-weight="normal" stroke="#2a2a2a" stroke-width="0.1" >transcripts</text>
<text x="376.0" y="416.2" font-size="6.6" text-anchor="middle" fill="#2a2a2a" font-weight="normal" stroke="#2a2a2a" stroke-width="0.1" >57%</text>
<text x="482.0" y="413.7" font-size="6.6" text-anchor="middle" fill="#2a2a2a" font-weight="normal" stroke="#2a2a2a" stroke-width="0.1" >Novel transcripts</text>
<text x="482.0" y="421.7" font-size="6.6" text-anchor="middle" fill="#2a2a2a" font-weight="normal" stroke="#2a2a2a" stroke-width="0.1" >11%</text>
<text x="467.5" y="456.0" font-size="6.6" text-anchor="middle" fill="#2a2a2a" font-weight="normal" stroke="#2a2a2a" stroke-width="0.1" >Pseudogene</text>
<text x="467.5" y="463.7" font-size="6.6" text-anchor="middle" fill="#2a2a2a" font-weight="normal" stroke="#2a2a2a" stroke-width="0.1" >transcripts</text>
<text x="467.5" y="471.4" font-size="6.6" text-anchor="middle" fill="#2a2a2a" font-weight="normal" stroke="#2a2a2a" stroke-width="0.1" >8%</text>
<path d="M435.4,444.6 L442.3,453.8 H447.7" fill="none" stroke="#111" stroke-width="1.4"/>
</svg>
</body></html>
